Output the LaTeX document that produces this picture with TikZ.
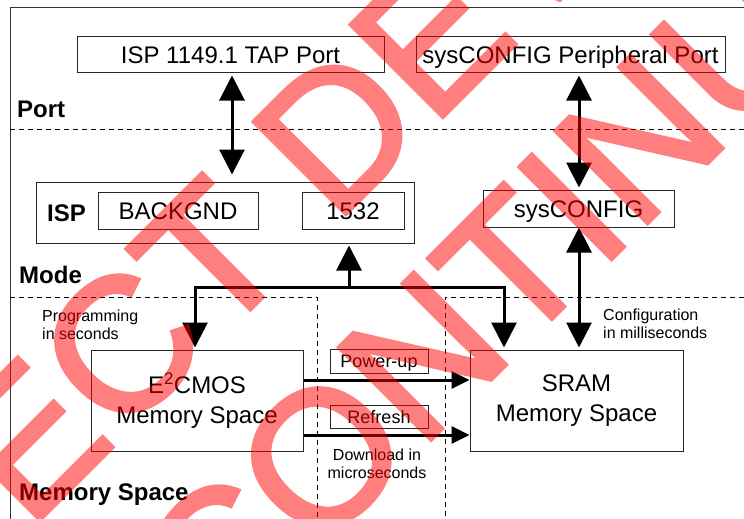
\documentclass[tikz,border=0pt]{standalone}
\usepackage{fontspec}
\setmainfont{Liberation Sans}
\newfontfamily\wmfont[FakeBold=2]{Liberation Sans}
\usetikzlibrary{arrows.meta}
\begin{document}
\begin{tikzpicture}[x=1pt,y=-1pt,
  box/.style={draw=black!85, line width=1pt, inner sep=0pt, font=\fontsize{24}{30}\selectfont, text height=17pt, text depth=0pt},
  sbox/.style={draw=black!85, line width=1pt, inner sep=0pt, font=\fontsize{18}{22}\selectfont, text height=13pt, text depth=0pt},
  mbox/.style={draw=black!85, line width=1pt, inner sep=0pt, font=\fontsize{24}{30}\selectfont, align=center},
  lbl/.style={font=\fontsize{24}{28}\selectfont\bfseries, anchor=base west, inner sep=0pt},
  note/.style={font=\fontsize{16}{18}\selectfont, anchor=base west, inner sep=0pt},
  dl/.style={line width=1pt, dash pattern=on 5pt off 4pt},
  bigtip/.tip={Triangle[length=25pt,width=25pt]},
  smalltip/.tip={Triangle[length=18pt,width=17pt]},
  dbl/.style={line width=3pt, bigtip-bigtip},
  sgl/.style={line width=3pt, -bigtip},
  harr/.style={line width=3pt, -smalltip},
  wm/.style={text=red, font=\wmfont\fontsize{190}{190}\selectfont, inner sep=0pt, rotate=45, anchor=base}
]
\useasboundingbox (0,0) rectangle (744,519);
% frame and region separators
\draw[line width=1pt, black!80] (744,8) -- (10,8) -- (10,519);
\draw[dl] (10,129) -- (744,129);
\draw[dl] (10,297) -- (317,297) -- (317,519);
\draw[dl] (744,297) -- (445,297) -- (445,519);
% region labels
\node[lbl] (lport) at (17,117) {Port};
\node[lbl] (lmode) at (19,283) {Mode};
\node[lbl] (lmem) at (19,500) {Memory Space};
% boxes
\node[box, minimum width=307pt, minimum height=36pt] (tap) at (230.5,55) {ISP 1149.1 TAP Port};
\node[box, minimum width=309pt, minimum height=36pt] (per) at (570.5,55) {sysCONFIG Peripheral Port};
\node[draw=black!85, line width=1pt, minimum width=378pt, minimum height=61pt, inner sep=0pt] (isp) at (225,212.5) {};
\node[lbl] (lisp) at (47,221) {ISP};
\node[box, minimum width=160pt, minimum height=37pt] (bkg) at (178,210.5) {BACKGND};
\node[box, minimum width=102pt, minimum height=37pt] (n1532) at (353,210.5) {1532};
\node[box, minimum width=191pt, minimum height=37pt] (sys) at (578.5,208.5) {sysCONFIG};
\node[mbox, minimum width=212pt, minimum height=101pt] (e2) at (197,400.5) {E\textsuperscript{2}CMOS\\Memory Space};
\node[mbox, minimum width=213pt, minimum height=101pt] (sram) at (576.5,400.5) {SRAM\\Memory Space};
\node[sbox, minimum width=98pt, minimum height=24pt] (pu) at (379,361) {Power-up};
\node[sbox, minimum width=98pt, minimum height=23pt] (rf) at (379,416.5) {Refresh};
% notes
\node[note] (np1) at (42,321) {Programming};
\node[note] (np2) at (42,339) {in seconds};
\node[note] (nc1) at (603,320) {Configuration};
\node[note] (nc2) at (603,338) {in milliseconds};
\node[note, anchor=base] (nd1) at (377,460) {Download in};
\node[note, anchor=base] (nd2) at (377,478) {microseconds};
% connectors
\coordinate (xa) at (232,0);
\coordinate (xb) at (579,0);
\coordinate (bl) at (195,287);
\coordinate (br) at (504,287);
\coordinate (xm) at (349,287);
\coordinate (ya) at (0,380);
\coordinate (yb) at (0,435);
\draw[dbl, shorten <=2pt, shorten >=7pt] (xa |- tap.south) -- (xa |- isp.north);
\draw[dbl, shorten <=2pt, shorten >=2pt] (xb |- per.south) -- (xb |- sys.north);
\draw[dbl, shorten >=2pt] (xb |- sys.south) -- (xb |- sram.north);
\draw[dbl, line join=miter, shorten <=2pt, shorten >=2pt] (bl |- e2.north) -- (bl) -- (br) -- (br |- sram.north);
\draw[sgl, shorten >=2pt] (xm) -- (xm |- isp.south);
\draw[harr] (e2.east |- ya) -- (sram.west |- ya);
\draw[harr] (e2.east |- yb) -- (sram.west |- yb);
% watermark
\begin{scope}
\clip (0,0) rectangle (744,519);
\begin{scope}[transparency group, opacity=0.5]
\node[wm] (wm1) at (350,210) {SELECT DEVICES};
\node[wm] (wm2) at (506,365) {DISCONTINUED};
\end{scope}
\end{scope}
\end{tikzpicture}
\end{document}
